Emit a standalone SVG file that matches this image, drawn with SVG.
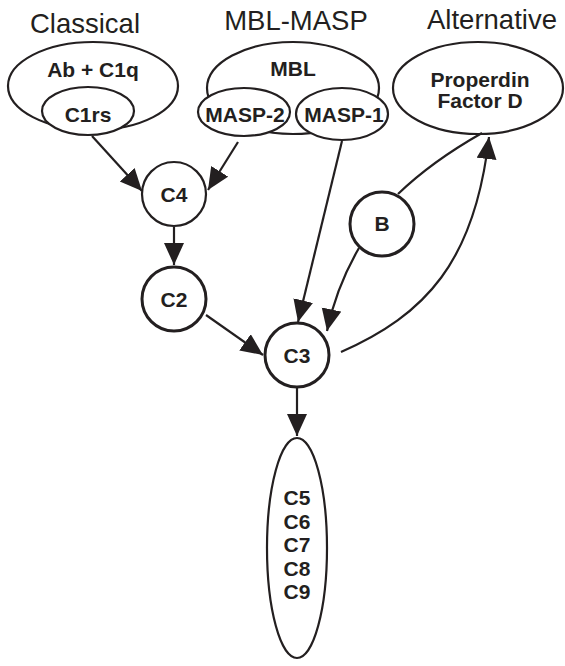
<svg xmlns="http://www.w3.org/2000/svg" width="565" height="666" viewBox="0 0 565 666">
<style>
.t{font-family:"Liberation Sans",Arial,sans-serif;font-size:27.5px;fill:#231f20;text-anchor:middle}
.l{font-family:"Liberation Sans",Arial,sans-serif;font-size:21px;font-weight:bold;fill:#231f20;text-anchor:middle}
.s{fill:#fff;stroke:#231f20;stroke-width:2.2}
.k{fill:#fff;stroke:#231f20;stroke-width:3}
.c{fill:none;stroke:#231f20;stroke-width:2.2}
</style>
<defs>
<marker id="a" markerUnits="userSpaceOnUse" markerWidth="24" markerHeight="22" refX="22" refY="10" orient="auto">
<path d="M0,0 L22,10 L0,20 Z" fill="#231f20"/>
</marker>
</defs>
<rect width="565" height="666" fill="#fff"/>
<g id="titles">
<text class="t" x="85" y="33">Classical</text>
<text class="t" x="296" y="30">MBL-MASP</text>
<text class="t" x="492" y="29">Alternative</text>
</g>
<g id="classical">
<ellipse class="s" cx="93" cy="86" rx="85" ry="44"/>
<text class="l" x="93" y="77">Ab + C1q</text>
</g>
<g id="c1rs">
<ellipse class="s" cx="88" cy="111" rx="46" ry="24"/>
<text class="l" x="88" y="122">C1rs</text>
</g>
<g id="mbl">
<ellipse class="s" cx="293" cy="88" rx="86" ry="46"/>
<text class="l" x="293" y="76">MBL</text>
</g>
<g id="masp2">
<ellipse class="s" cx="244" cy="112" rx="46" ry="24"/>
<text class="l" x="245" y="122">MASP-2</text>
</g>
<g id="masp1">
<ellipse class="s" cx="342" cy="114" rx="46" ry="26"/>
<text class="l" x="344" y="122">MASP-1</text>
</g>
<g id="properdin">
<ellipse class="s" cx="478" cy="88" rx="85" ry="46"/>
<text class="l" x="480" y="87">Properdin</text>
<text class="l" x="480" y="108">Factor D</text>
</g>
<g id="c4">
<circle class="s" cx="174" cy="194" r="32"/>
<text class="l" x="174" y="202">C4</text>
</g>
<g id="c2">
<circle class="k" cx="174" cy="299" r="32"/>
<text class="l" x="174" y="307">C2</text>
</g>
<g id="c3">
<circle class="k" cx="297" cy="355" r="32"/>
<text class="l" x="297" y="363">C3</text>
</g>
<g id="b">
<circle class="k" cx="382" cy="224" r="32"/>
<text class="l" x="382" y="231">B</text>
</g>
<g id="c5c9">
<ellipse class="s" cx="297" cy="548" rx="30" ry="110"/>
<text class="l" x="297" y="505">C5</text>
<text class="l" x="297" y="528.5">C6</text>
<text class="l" x="297" y="552">C7</text>
<text class="l" x="297" y="575.5">C8</text>
<text class="l" x="297" y="599">C9</text>
</g>
<g id="connectors">
<path class="c" d="M92,136 L142,191" marker-end="url(#a)"/>
<path class="c" d="M238,142 L208,190" marker-end="url(#a)"/>
<path class="c" d="M342,141 L298,322" marker-end="url(#a)"/>
<path class="c" d="M359,248 C345,272 334,298 327,331" marker-end="url(#a)"/>
<path class="c" d="M174,227 L174,265" marker-end="url(#a)"/>
<path class="c" d="M206,315 L263,355" marker-end="url(#a)"/>
<path class="c" d="M297,388 L297,436" marker-end="url(#a)"/>
<path class="c" d="M398,194 C425,168 452,150 482,133"/>
<path class="c" d="M341,352 C425,315 475,262 489,137" marker-end="url(#a)"/>
</g>
</svg>
